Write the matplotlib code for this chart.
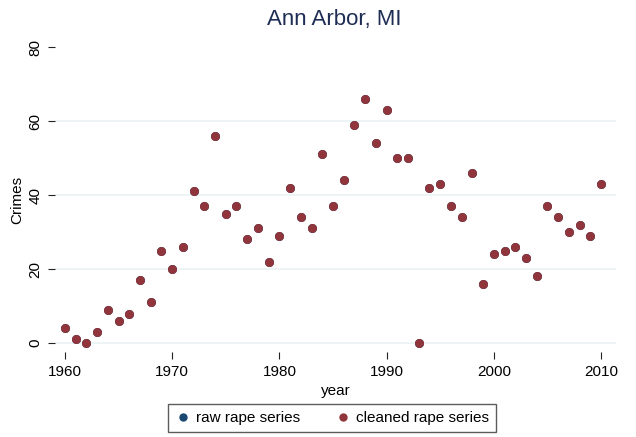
import matplotlib
matplotlib.use("Agg")
import matplotlib.pyplot as plt
from matplotlib.lines import Line2D

plt.rcParams['font.family'] = ['Liberation Sans', 'DejaVu Sans']

years = list(range(1960, 2011))
cleaned = [4, 1, 0, 3, 9, 6, 8, 17, 11, 25,
           20, 26, 41, 37, 56, 35, 37, 28, 31, 22,
           29, 42, 34, 31, 51, 37, 44, 59, 66, 54,
           63, 50, 50, 0, 42, 43, 37, 34, 46, 16,
           24, 25, 26, 23, 18, 37, 34, 30, 32, 29,
           43]
raw = list(cleaned)

title = "Ann Arbor, MI"
yticks = [0, 20, 40, 60, 80]
xticks = [1960, 1970, 1980, 1990, 2000, 2010]

W, H = 636, 437
fig = plt.figure(figsize=(W / 100, H / 100), dpi=100)
left, right, top, bottom = 55, 616, 47, 352
ax = fig.add_axes([left / W, 1 - bottom / H, (right - left) / W, (bottom - top) / H])

navy = '#1a476f'
maroon = '#90353b'

for g in [0, 20, 40, 60]:
    ax.axhline(g, color='#eaf2f3', lw=1.2, zorder=0)

ax.scatter(years, raw, s=42, color=navy, zorder=2, linewidths=0)
ax.scatter(years, cleaned, s=42, color=maroon, zorder=3, linewidths=0)

ax.set_xlim(1959.07, 2011.4)
ax.set_ylim(-2.4, 80)
ax.set_yticks(yticks)
ax.set_xticks(xticks)
ax.set_yticklabels([str(t) for t in yticks], rotation=90, va='center', fontsize=11)
ax.set_xticklabels([str(t) for t in xticks], fontsize=11)
ax.tick_params(axis='both', direction='out', length=5, width=0.8, color='#222222', pad=4)
for s in ax.spines.values():
    s.set_visible(False)

ax.set_ylabel("Crimes", fontsize=11, labelpad=3)
ax.set_xlabel("year", fontsize=11, labelpad=4)
fig.text(334 / W, 1 - 20 / H, title, ha='center', va='center', fontsize=16, color='#1e2d53')

handles = [Line2D([], [], marker='o', ls='', color=navy, markersize=5),
           Line2D([], [], marker='o', ls='', color=maroon, markersize=5)]
leg = fig.legend(handles, ["raw rape series", "cleaned rape series"], ncol=2,
                 loc='center', bbox_to_anchor=(332 / W, 1 - 418 / H), frameon=True,
                 fontsize=11, fancybox=False, edgecolor='#333333', handletextpad=0.35,
                 columnspacing=2.3, borderpad=0.45, handlelength=1.0)
leg.get_frame().set_linewidth(1.0)

fig.savefig("out.png", dpi=100, facecolor='white')
